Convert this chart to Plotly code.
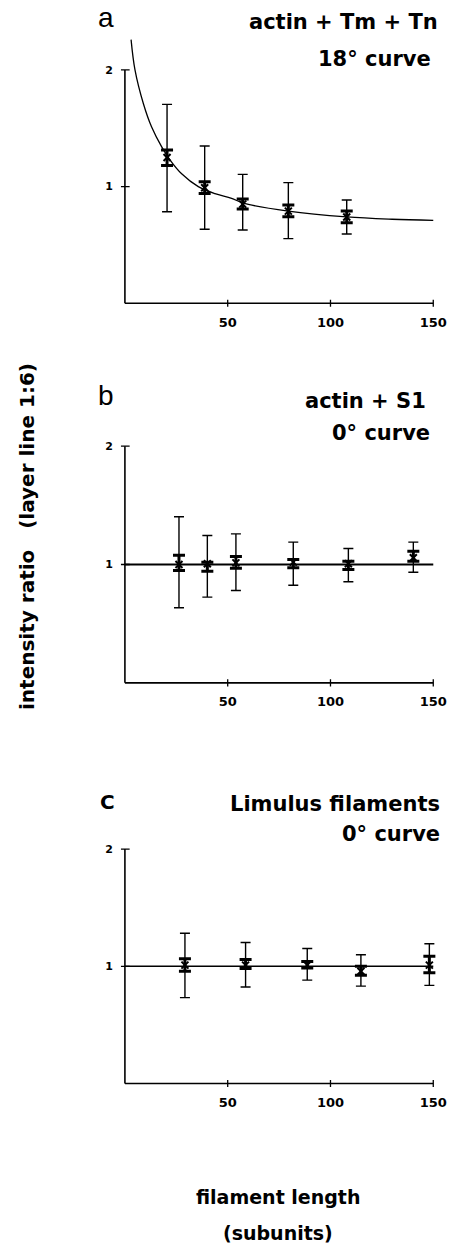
import plotly.graph_objects as go

# ---------------- data ----------------
# panel a: actin + Tm + Tn, 18 deg curve
a_curve_x = [3.0, 4.9, 9.0, 13.0, 17.9, 21.9, 27.6, 35.7, 43.8, 51.9, 57.3, 79.5, 107.9, 130.0, 150.0]
a_curve_y = [2.26, 2.00, 1.71, 1.51, 1.34, 1.23, 1.11, 1.00, 0.94, 0.90, 0.86, 0.79, 0.74, 0.72, 0.71]
a_x = [20.5, 38.8, 57.3, 79.5, 107.9]
a_mean = [1.25, 0.99, 0.85, 0.79, 0.74]
a_outer_hi = [1.705, 1.348, 1.105, 1.034, 0.885]
a_outer_lo = [0.785, 0.634, 0.628, 0.554, 0.594]
a_inner_hi = [1.314, 1.042, 0.894, 0.842, 0.791]
a_inner_lo = [1.180, 0.940, 0.808, 0.742, 0.691]

# panel b: actin + S1, 0 deg curve
b_curve_x = [0.0, 150.0]
b_curve_y = [1.0, 1.0]
b_x = [26.3, 40.1, 54.0, 81.9, 108.7, 140.3]
b_mean = [1.0, 1.006, 1.014, 1.02, 1.006, 1.057]
b_outer_hi = [1.403, 1.245, 1.259, 1.189, 1.135, 1.189]
b_outer_lo = [0.634, 0.724, 0.780, 0.825, 0.854, 0.935]
b_inner_hi = [1.079, 1.020, 1.068, 1.042, 1.028, 1.112]
b_inner_lo = [0.949, 0.943, 0.969, 0.972, 0.958, 1.028]

# panel c: Limulus filaments, 0 deg curve
c_curve_x = [0.0, 150.0]
c_curve_y = [1.0, 1.0]
c_x = [29.2, 58.7, 88.7, 114.8, 148.1]
c_mean = [1.01, 1.01, 1.01, 0.958, 1.01]
c_outer_hi = [1.282, 1.203, 1.152, 1.099, 1.192]
c_outer_lo = [0.733, 0.823, 0.882, 0.831, 0.837]
c_inner_hi = [1.065, 1.057, 1.042, 1.000, 1.085]
c_inner_lo = [0.958, 0.981, 0.986, 0.924, 0.944]

x_ticks = [50, 100, 150]
y_ticks = [1, 2]

panel_letters = ["a", "b", "C"]
panel_titles = [("actin + Tm + Tn", "18° curve"), ("actin + S1", "0° curve"), ("Limulus filaments", "0° curve")]
x_title = ["filament length", "(subunits)"]
y_title = "intensity ratio\u00a0\u00a0 (layer line 1:6)"

# ---------------- layout geometry ----------------
W, H = 453, 1243
FONT = "DejaVu Sans"


def px(x):
    return x / W


def py(y):
    return 1 - y / H


x_dom = [120.8 / W, 445.6 / W]
x_range = [-2, 156]
y_doms = [[0.74851, 0.97377], [0.44304, 0.64867], [0.12076, 0.32446]]
y_ranges = [[-0.08, 2.32], [-0.08, 2.08], [-0.08, 2.08]]

panels = [
    (a_curve_x, a_curve_y, a_x, a_mean, a_outer_hi, a_outer_lo, a_inner_hi, a_inner_lo, 1.3),
    (b_curve_x, b_curve_y, b_x, b_mean, b_outer_hi, b_outer_lo, b_inner_hi, b_inner_lo, 1.8),
    (c_curve_x, c_curve_y, c_x, c_mean, c_outer_hi, c_outer_lo, c_inner_hi, c_inner_lo, 1.4),
]

fig = go.Figure()
shapes = []
for i, (cx, cy, xs, m, ohi, olo, ihi, ilo, lw) in enumerate(panels):
    n = "" if i == 0 else str(i + 1)
    xa, ya = "x" + n, "y" + n
    fig.add_trace(go.Scatter(x=cx, y=cy, mode="lines", line=dict(color="black", width=lw, shape="spline"),
                             xaxis=xa, yaxis=ya, showlegend=False, hoverinfo="skip"))
    fig.add_trace(go.Scatter(
        x=xs, y=m, mode="markers", marker=dict(size=1, color="black"),
        error_y=dict(type="data", symmetric=False,
                     array=[h - v for h, v in zip(ohi, m)],
                     arrayminus=[v - l for l, v in zip(olo, m)],
                     color="black", thickness=1.4, width=5),
        xaxis=xa, yaxis=ya, showlegend=False, cliponaxis=False))
    fig.add_trace(go.Scatter(
        x=xs, y=m, mode="markers",
        marker=dict(symbol="x-thin", size=7, color="black", line=dict(color="black", width=2)),
        error_y=dict(type="data", symmetric=False,
                     array=[h - v for h, v in zip(ihi, m)],
                     arrayminus=[v - l for l, v in zip(ilo, m)],
                     color="black", thickness=3, width=6),
        xaxis=xa, yaxis=ya, showlegend=False, cliponaxis=False))

    # axis lines and crossing ticks
    ln = dict(color="black", width=1.6)
    shapes.append(dict(type="line", xref=xa, yref=ya, x0=0, x1=150, y0=0, y1=0, line=ln))
    shapes.append(dict(type="line", xref=xa, yref=ya, x0=0, x1=0, y0=0, y1=2, line=ln))
    for t in x_ticks:
        shapes.append(dict(type="line", xref=xa, yref=ya, x0=t, x1=t, y0=-0.03, y1=0.03, line=dict(color="black", width=1.3)))
    for t in y_ticks:
        shapes.append(dict(type="line", xref=xa, yref=ya, x0=-2, x1=2.3, y0=t, y1=t, line=dict(color="black", width=1.3)))

    fig.layout["xaxis" + n] = dict(domain=x_dom, range=x_range, anchor=ya, showgrid=False, zeroline=False,
                                   showline=False, ticks="", tickvals=x_ticks, ticktext=[str(t) for t in x_ticks],
                                   tickfont=dict(family=FONT, size=13, color="black", weight="bold"),
                                   fixedrange=True)
    fig.layout["yaxis" + n] = dict(domain=y_doms[i], range=y_ranges[i], anchor=xa, showgrid=False, zeroline=False,
                                   showline=False, ticks="", tickvals=y_ticks, ticktext=[str(t) for t in y_ticks],
                                   tickfont=dict(family=FONT, size=11, color="black", weight="bold"),
                                   ticklabelstandoff=7, fixedrange=True)

annotations = []
letter_pos = [(106, 17), (106, 395), (107, 802)]
letter_font = [dict(family="Liberation Sans", size=28, color="black"),
               dict(family="Liberation Sans", size=28, color="black"),
               dict(family=FONT, size=20, color="black", weight="bold")]
for (lx, ly), t, f in zip(letter_pos, panel_letters, letter_font):
    annotations.append(dict(text=t, x=px(lx), y=py(ly), xref="paper", yref="paper", showarrow=False,
                            xanchor="center", yanchor="middle", font=f))

title_pos = [((440, 22), (433, 59)), ((428, 401), (432, 433)), ((442, 804), (442, 834))]
tfont = dict(family=FONT, size=21, color="black", weight="bold")
for (p1, p2), (t1, t2) in zip(title_pos, panel_titles):
    annotations.append(dict(text=t1, x=px(p1[0]), y=py(p1[1]), xref="paper", yref="paper", showarrow=False,
                            xanchor="right", yanchor="middle", font=tfont))
    annotations.append(dict(text=t2, x=px(p2[0]), y=py(p2[1]), xref="paper", yref="paper", showarrow=False,
                            xanchor="right", yanchor="middle", font=tfont))

afont = dict(family=FONT, size=19, color="black", weight="bold")
annotations.append(dict(text=x_title[0], x=px(278), y=py(1197), xref="paper", yref="paper", showarrow=False,
                        xanchor="center", yanchor="middle", font=afont))
annotations.append(dict(text=x_title[1], x=px(278), y=py(1233), xref="paper", yref="paper", showarrow=False,
                        xanchor="center", yanchor="middle", font=afont))
annotations.append(dict(text=y_title, x=px(27), y=py(537), xref="paper", yref="paper", showarrow=False,
                        xanchor="center", yanchor="middle", textangle=-90,
                        font=dict(family=FONT, size=20, color="black", weight="bold")))

fig.update_layout(width=W, height=H, margin=dict(l=0, r=0, t=0, b=0), paper_bgcolor="white",
                  plot_bgcolor="white", shapes=shapes, annotations=annotations, showlegend=False)

fig.write_html("out.html")
